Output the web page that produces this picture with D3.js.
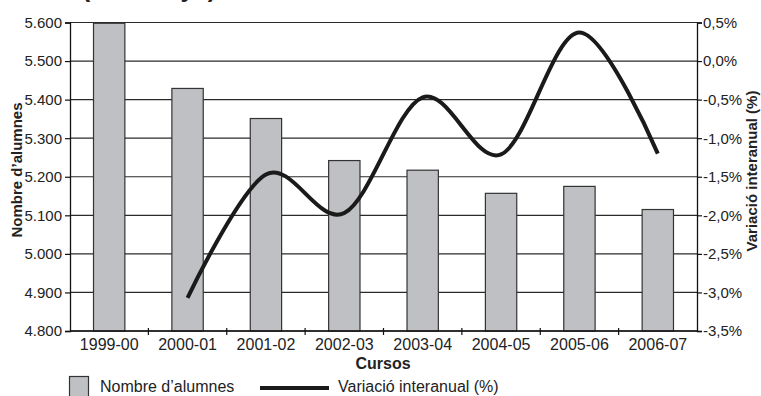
<!DOCTYPE html>
<html>
<head>
<meta charset="utf-8">
<script src="https://cdn.jsdelivr.net/npm/d3@7"></script>
<style>
    body { margin: 0; background: #fff; }
    svg { display: block; font-family: "Liberation Sans", Arial, sans-serif; }
</style>
</head>
<body>
<svg id="chart" width="761" height="396"></svg>
<script>
"use strict";

// dades llegides del gràfic
const cursos = ["1999-00", "2000-01", "2001-02", "2002-03", "2003-04", "2004-05", "2005-06", "2006-07"];
const alumnes = [5598, 5429, 5351, 5242, 5217, 5157, 5175, 5115];
const variacio = [null, -3.07, -1.47, -1.97, -0.47, -1.21, 0.37, -1.20];
const leftTicks = [4800, 4900, 5000, 5100, 5200, 5300, 5400, 5500, 5600];
const rightTicks = [-3.5, -3.0, -2.5, -2.0, -1.5, -1.0, -0.5, 0.0, 0.5];

const svg = d3.select("#chart");
const margin = {top: 22.5, right: 64, bottom: 65, left: 70};
const width = +svg.attr("width");
const height = +svg.attr("height");
const plotRight = width - margin.right;
const plotBottom = height - margin.bottom;

const locale = d3.formatLocale({decimal: ",", thousands: ".", grouping: [3], currency: ["", ""], minus: "-"});
const fmtLeft = locale.format(",");
const fmtRight = locale.format(".1f");

const xScale = d3.scaleBand()
    .domain(cursos)
    .range([margin.left, plotRight])
    .padding(0);
const yLeft = d3.scaleLinear()
    .domain([4800, 5600])
    .range([plotBottom, margin.top]);
const yRight = d3.scaleLinear()
    .domain([-3.5, 0.5])
    .range([plotBottom, margin.top]);

// títol (retallat a la part superior)
svg.append("text")
    .attr("x", 82)
    .attr("y", -3.5)
    .attr("font-size", "24.6px")
    .attr("font-weight", "bold")
    .attr("fill", "#222")
    .text("(Catalunya)");

// línies de graella
svg.append("g")
    .selectAll("line")
    .data(leftTicks)
    .join("line")
    .attr("x1", margin.left)
    .attr("x2", plotRight)
    .attr("y1", d => yLeft(d))
    .attr("y2", d => yLeft(d))
    .attr("stroke", "#2a2a2a")
    .attr("stroke-width", 1.2);

// barres
const barW = xScale.bandwidth() * 0.4;
svg.append("g")
    .selectAll("rect")
    .data(cursos)
    .join("rect")
    .attr("x", d => xScale(d) + (xScale.bandwidth() - barW) / 2)
    .attr("y", (d, i) => yLeft(alumnes[i]))
    .attr("width", barW)
    .attr("height", (d, i) => plotBottom - yLeft(alumnes[i]))
    .attr("fill", "#bfc0c4")
    .attr("stroke", "#333")
    .attr("stroke-width", 1.2);

// eixos
const leftAxis = d3.axisLeft(yLeft)
    .tickValues(leftTicks)
    .tickSize(5)
    .tickPadding(3)
    .tickFormat(fmtLeft);
const rightAxis = d3.axisRight(yRight)
    .tickValues(rightTicks)
    .tickSize(5)
    .tickPadding(1)
    .tickFormat(d => fmtRight(d) + "%");
const bottomAxis = d3.axisBottom(xScale)
    .tickSize(0)
    .tickPadding(8);

function styleAxis(g, size) {
    g.selectAll("path").attr("stroke", "#111").attr("stroke-width", 1.3);
    g.selectAll("line").attr("stroke", "#111").attr("stroke-width", 1.2);
    g.selectAll("text")
        .attr("fill", "#222")
        .attr("font-size", size)
        .attr("font-family", "\"Liberation Sans\", Arial, sans-serif");
}

svg.append("g")
    .attr("transform", "translate(" + margin.left + ",0)")
    .call(leftAxis)
    .call(g => styleAxis(g, "15px"));
svg.append("g")
    .attr("transform", "translate(" + plotRight + ",0)")
    .call(rightAxis)
    .call(g => styleAxis(g, "15px"));
const xg = svg.append("g")
    .attr("transform", "translate(0," + plotBottom + ")")
    .call(bottomAxis)
    .call(g => styleAxis(g, "16px"));
xg.select(".domain").attr("d", "M" + margin.left + ",0H" + plotRight);

// marques entre categories
svg.append("g")
    .selectAll("line")
    .data(cursos.slice(1))
    .join("line")
    .attr("x1", d => xScale(d))
    .attr("x2", d => xScale(d))
    .attr("y1", plotBottom - 3)
    .attr("y2", plotBottom + 4)
    .attr("stroke", "#111")
    .attr("stroke-width", 1.2);

// línia de variació
const line = d3.line()
    .defined(d => d !== null)
    .x((d, i) => xScale(cursos[i]) + xScale.bandwidth() / 2)
    .y(d => yRight(d))
    .curve(d3.curveCardinal.tension(0));
svg.append("path")
    .datum(variacio)
    .attr("d", line)
    .attr("fill", "none")
    .attr("stroke", "#1a1a1a")
    .attr("stroke-width", 4)
    .attr("stroke-linejoin", "round");

// títols dels eixos
svg.append("text")
    .attr("transform", "translate(22,170) rotate(-90)")
    .attr("text-anchor", "middle")
    .attr("font-size", "15px")
    .attr("font-weight", "bold")
    .attr("fill", "#222")
    .text("Nombre d’alumnes");
svg.append("text")
    .attr("transform", "translate(757,171) rotate(-90)")
    .attr("text-anchor", "middle")
    .attr("font-size", "15px")
    .attr("font-weight", "bold")
    .attr("fill", "#222")
    .text("Variació interanual (%)");
svg.append("text")
    .attr("x", 383)
    .attr("y", 369)
    .attr("text-anchor", "middle")
    .attr("font-size", "16px")
    .attr("font-weight", "bold")
    .attr("fill", "#222")
    .text("Cursos");

// llegenda
const legend = svg.append("g");
legend.append("rect")
    .attr("x", 69.5)
    .attr("y", 376.5)
    .attr("width", 19)
    .attr("height", 21)
    .attr("fill", "#bfc0c4")
    .attr("stroke", "#333")
    .attr("stroke-width", 1.2);
legend.append("text")
    .attr("x", 100)
    .attr("y", 392)
    .attr("font-size", "16px")
    .attr("fill", "#222")
    .text("Nombre d’alumnes");
legend.append("line")
    .attr("x1", 260)
    .attr("x2", 329)
    .attr("y1", 388)
    .attr("y2", 388)
    .attr("stroke", "#1a1a1a")
    .attr("stroke-width", 4);
legend.append("text")
    .attr("x", 338)
    .attr("y", 392)
    .attr("font-size", "16px")
    .attr("fill", "#222")
    .text("Variació interanual (%)");
</script>
</body>
</html>
